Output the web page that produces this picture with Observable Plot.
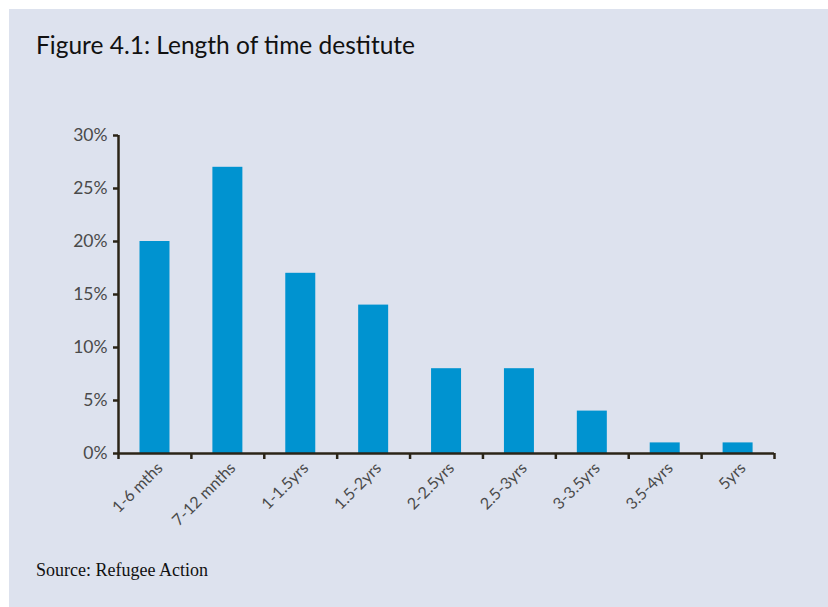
<!DOCTYPE html>
<html>
<head>
<meta charset="utf-8">
<script src="https://cdn.jsdelivr.net/npm/d3@7"></script>
<script src="https://cdn.jsdelivr.net/npm/@observablehq/plot@0.6"></script>
<style>
  html, body { margin: 0; padding: 0; background: #ffffff; }
  #page { position: relative; width: 828px; height: 607px; overflow: hidden; }
  #panel { position: absolute; left: 9px; top: 9px; width: 819px; height: 598px; background: #dde2ee; }
  #title { position: absolute; left: 36px; top: 30px; font-family: Lato, "Open Sans", sans-serif; font-size: 24.5px; color: #111; }
  #chart { position: absolute; left: 0; top: 110px; }
  #source { position: absolute; left: 36px; top: 560px; font-family: "Liberation Serif", serif; font-size: 18px; color: #111; }
</style>
</head>
<body>
<div id="page">
  <div id="panel"></div>
  <div id="title">Figure 4.1: Length of time destitute</div>
  <div id="chart"></div>
  <div id="source">Source: Refugee Action</div>
</div>
<script>
const categories = ["1-6 mths", "7-12 mnths", "1-1.5yrs", "1.5-2yrs", "2-2.5yrs", "2.5-3yrs", "3-3.5yrs", "3.5-4yrs", "5yrs"];
const values = [20, 27, 17, 14, 8, 8, 4, 1, 1];
const yTicks = [0, 5, 10, 15, 20, 25, 30];

const data = categories.map((c, i) => ({cat: c, i, v: values[i]}));
const centers = categories.map((c, i) => i + 0.5);
const bounds = d3.range(categories.length + 1);
const axisColor = "#2b2417";
const labelColor = "#4a4a4a";

const chart = Plot.plot({
  width: 828,
  height: 430,
  marginLeft: 118,
  marginRight: 54,
  marginTop: 25,
  marginBottom: 87,
  style: {background: "transparent", fontFamily: "Lato, 'Open Sans', sans-serif", fontSize: "16px", color: labelColor},
  x: {domain: [0, categories.length], axis: null},
  y: {domain: [0, 30], axis: null},
  marks: [
    Plot.rectY(data, {x1: "i", x2: d => d.i + 1, y: "v", fill: "#0093d0", insetLeft: 21.5, insetRight: 21.4}),
    Plot.axisY({ticks: yTicks, tickFormat: d => d + "%", label: null, tickSize: 5, tickPadding: 6, stroke: axisColor, strokeWidth: 2.5, fill: labelColor, fontSize: 17.5}),
    Plot.axisX({ticks: bounds, tickFormat: () => "", label: null, tickSize: 6, stroke: axisColor, strokeWidth: 2.5}),
    Plot.axisX({ticks: centers, tickFormat: d => categories[Math.floor(d)], label: null, tickSize: 0, tickPadding: 12, dx: 5, tickRotate: -45, fill: labelColor, fontSize: 16}),
    Plot.ruleX([0], {y1: 0, y2: 30, stroke: axisColor, strokeWidth: 2.5}),
    Plot.ruleY([0], {stroke: axisColor, strokeWidth: 2.5})
  ]
});
document.getElementById("chart").appendChild(chart);
</script>
</body>
</html>
